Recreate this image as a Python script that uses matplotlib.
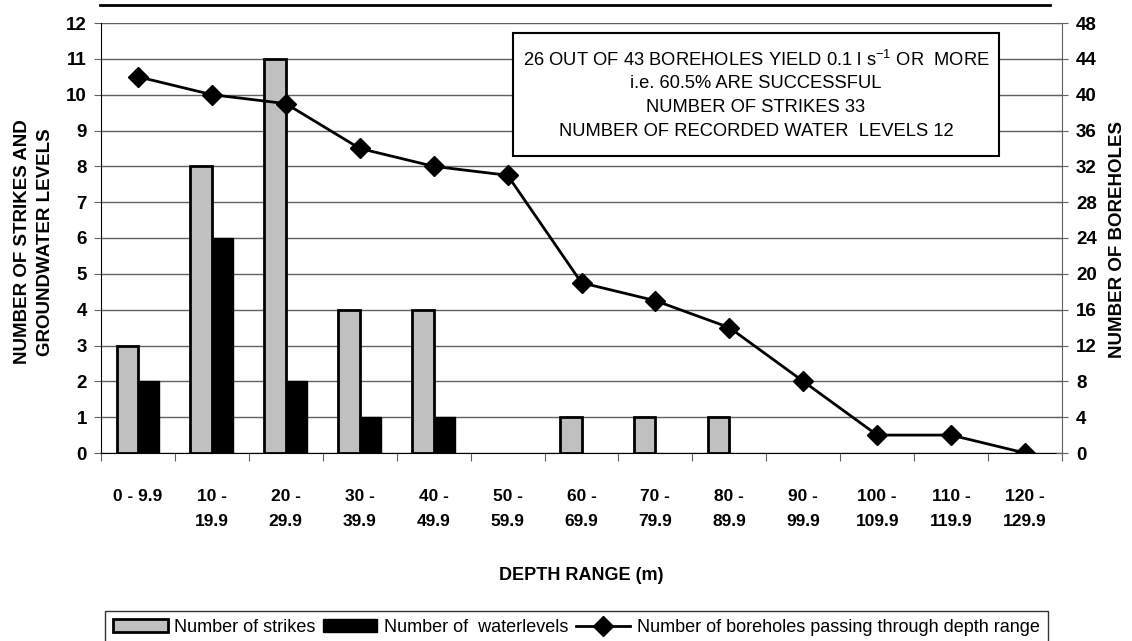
import matplotlib
matplotlib.use("Agg")
import matplotlib.pyplot as plt
from matplotlib.patches import Rectangle
from matplotlib.lines import Line2D
import numpy as np

plt.rcParams['font.family'] = ['Liberation Sans', 'DejaVu Sans']
plt.rcParams['mathtext.default'] = 'regular'

categories = ["0 - 9.9", "10 -\n19.9", "20 -\n29.9", "30 -\n39.9", "40 -\n49.9",
              "50 -\n59.9", "60 -\n69.9", "70 -\n79.9", "80 -\n89.9", "90 -\n99.9",
              "100 -\n109.9", "110 -\n119.9", "120 -\n129.9"]
strikes = [3, 8, 11, 4, 4, 0, 1, 1, 1, 0, 0, 0, 0]
waterlevels = [2, 6, 2, 1, 1, 0, 0, 0, 0, 0, 0, 0, 0]
boreholes = [42, 40, 39, 34, 32, 31, 19, 17, 14, 8, 2, 2, 0]
left_ticks = list(range(0, 13))
right_ticks = list(range(0, 49, 4))
info_lines = ["26 OUT OF 43 BOREHOLES YIELD 0.1 l s$^{-1}$ OR  MORE",
              "i.e. 60.5% ARE SUCCESSFUL",
              "NUMBER OF STRIKES 33",
              "NUMBER OF RECORDED WATER  LEVELS 12"]

W, H = 1132, 641
fig = plt.figure(figsize=(W / 100, H / 100), dpi=100)
L, R, T, B = 101, 1062, 23, 453
ax = fig.add_axes([L / W, 1 - B / H, (R - L) / W, (B - T) / H])

x = np.arange(len(categories))
w = 0.29
s_arr = np.array(strikes, dtype=float)
wl_arr = np.array(waterlevels, dtype=float)
ms = s_arr > 0
mw = wl_arr > 0
ax.bar(x[ms] - w / 2, s_arr[ms], w, color='#C0C0C0', edgecolor='black', linewidth=2,
       zorder=3, label='Number of strikes')
ax.bar(x[mw] + w / 2, wl_arr[mw], w, color='black', edgecolor='black', linewidth=1,
       zorder=3, label='Number of  waterlevels')

ax.set_xlim(-0.5, len(categories) - 0.5)
ax.set_ylim(0, 12)
ax.set_yticks(left_ticks)
ax.grid(axis='y', color='#606060', linewidth=1, zorder=0)
ax.set_axisbelow(True)
ax.set_xticks(np.arange(len(categories) + 1) - 0.5)
ax.set_xticklabels([])
ax.set_xticks(x, minor=True)
ax.set_xticklabels(categories, minor=True, fontweight='bold', fontsize=12.5,
                   linespacing=1.85)
ax.tick_params(axis='x', which='minor', length=0, pad=26)
ax.tick_params(axis='x', which='major', length=6, direction='out', color='#606060')
ax.tick_params(axis='y', length=5, direction='out', labelsize=13.5, pad=5, color='#606060')
for lab in ax.get_yticklabels():
    lab.set_fontweight('bold')
for s in ['top', 'right']:
    ax.spines[s].set_visible(False)
ax.spines['left'].set_color('black')
ax.spines['bottom'].set_color('black')

ax2 = ax.twinx()
ax2.plot(x, boreholes, color='black', linewidth=2, marker='D', markersize=10,
         zorder=5, label='Number of boreholes passing through depth range')
ax2.set_ylim(0, 48)
ax2.set_yticks(right_ticks)
ax2.tick_params(axis='y', length=8, direction='inout', labelsize=13.5, pad=6, color='#606060')
for lab in ax2.get_yticklabels():
    lab.set_fontweight('bold')
for s in ['top', 'left', 'bottom']:
    ax2.spines[s].set_visible(False)
ax2.spines['right'].set_color('#606060')

fig.text(22.5 / W, 1 - 242 / H, "NUMBER OF STRIKES AND",
         rotation=90, ha='center', va='center', fontweight='bold', fontsize=13.5)
fig.text(46 / W, 1 - 242 / H, "GROUNDWATER LEVELS",
         rotation=90, ha='center', va='center', fontweight='bold', fontsize=13.5)
fig.text(1117 / W, 1 - 240 / H, "NUMBER OF BOREHOLES", rotation=90,
         ha='center', va='center', fontweight='bold', fontsize=13.5)
fig.text((L + R) / 2 / W, 1 - 575 / H, "DEPTH RANGE (m)", ha='center', va='center',
         fontweight='bold', fontsize=13)

# top rule
fig.add_artist(Line2D([100 / W, 1050 / W], [1 - 5 / H, 1 - 5 / H], color='black',
                      linewidth=2))

# info box
bx0, bx1, by0, by1 = 513, 999, 33, 156
fig.add_artist(Rectangle((bx0 / W, 1 - by1 / H), (bx1 - bx0) / W, (by1 - by0) / H,
                         facecolor='white', edgecolor='black', linewidth=1.5, zorder=10))
for ys, t in zip([60, 84, 108, 132], info_lines):
    fig.text((bx0 + bx1) / 2 / W, 1 - ys / H, t, ha='center', va='center',
             fontsize=13.2, zorder=11)

h1, l1 = ax.get_legend_handles_labels()
h2, l2 = ax2.get_legend_handles_labels()
leg = fig.legend(h1 + h2, l1 + l2, loc='upper center',
                 bbox_to_anchor=((101 + 1052) / 2 / W, 1 - 611 / H), ncol=3,
                 fontsize=13, frameon=True, fancybox=False, edgecolor='black',
                 handlelength=3.0, handletextpad=0.35, columnspacing=0.45,
                 borderpad=0.45, borderaxespad=0)
leg.get_frame().set_linewidth(1)

fig.savefig("out.png", dpi=100)
